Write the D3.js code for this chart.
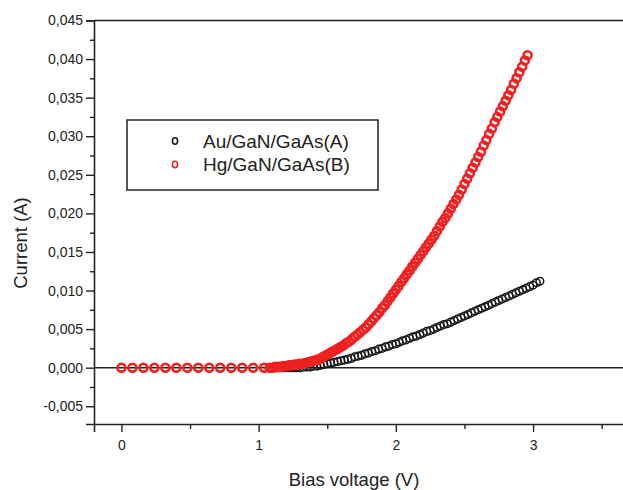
<!DOCTYPE html>
<html>
<head>
<meta charset="utf-8">
<script src="https://cdn.jsdelivr.net/npm/d3@7/dist/d3.min.js"></script>
<style>
  html, body { margin: 0; padding: 0; background: #fff; }
  svg { display: block; }
  text { font-family: "Liberation Sans", Arial, sans-serif; fill: #222; }
</style>
</head>
<body>
<svg id="chart" width="623" height="490"></svg>
<script>
// I-V characteristics of the two Schottky structures
const seriesNames = ["Au/GaN/GaAs(A)", "Hg/GaN/GaAs(B)"];
const seriesColors = ["#1a1a1a", "#f02020"];

// Sample A (Au contact): bias voltage (V) and current (A)
const voltsA = [0, 0.08, 0.16, 0.24, 0.32, 0.40, 0.48, 0.56, 0.64, 0.72, 0.80, 0.88, 0.96, 1.04,
  1.100, 1.125, 1.150, 1.175, 1.200, 1.225, 1.250, 1.275, 1.300, 1.325, 1.350, 1.375, 1.400, 1.425,
  1.450, 1.475, 1.500, 1.525, 1.550, 1.575, 1.600, 1.625, 1.650, 1.675, 1.700, 1.725, 1.750, 1.775,
  1.800, 1.825, 1.850, 1.875, 1.900, 1.925, 1.950, 1.975, 2.000, 2.025, 2.050, 2.075, 2.100, 2.125,
  2.150, 2.175, 2.200, 2.225, 2.250, 2.275, 2.300, 2.325, 2.350, 2.375, 2.400, 2.425, 2.450, 2.475,
  2.500, 2.525, 2.550, 2.575, 2.600, 2.625, 2.650, 2.675, 2.700, 2.725, 2.750, 2.775, 2.800, 2.825,
  2.850, 2.875, 2.900, 2.925, 2.950, 2.975, 3.000, 3.025, 3.050];
const currentA = [0, 0, 0, 0, 0, 0, 0, 0, 0, 0, 0, 0, 0, 0,
  0.0000, 0.0000, 0.0000, 0.0000, 0.0000, 0.0000, 0.0000, 0.0000, 0.0000, 0.0001, 0.0001, 0.0001, 0.0002, 0.0002,
  0.0003, 0.0004, 0.0005, 0.0006, 0.0007, 0.0008, 0.0009, 0.0010, 0.0011, 0.0012, 0.0014, 0.0015, 0.0016, 0.0018,
  0.0019, 0.0021, 0.0022, 0.0024, 0.0025, 0.0027, 0.0028, 0.0030, 0.0031, 0.0033, 0.0035, 0.0036, 0.0038, 0.0040,
  0.0041, 0.0043, 0.0045, 0.0047, 0.0048, 0.0050, 0.0052, 0.0054, 0.0056, 0.0057, 0.0059, 0.0061, 0.0063, 0.0065,
  0.0067, 0.0069, 0.0071, 0.0073, 0.0075, 0.0077, 0.0079, 0.0081, 0.0083, 0.0085, 0.0087, 0.0089, 0.0091, 0.0093,
  0.0095, 0.0097, 0.0099, 0.0101, 0.0103, 0.0105, 0.0107, 0.0110, 0.0112];

// Sample B (Hg contact): bias voltage (V) and current (A)
const voltsB = [0, 0.08, 0.16, 0.24, 0.32, 0.40, 0.48, 0.56, 0.64, 0.72, 0.80, 0.88, 0.96, 1.04,
  1.08, 1.10, 1.12, 1.14, 1.16, 1.18, 1.20, 1.22, 1.24, 1.26, 1.28, 1.30, 1.32, 1.34, 1.36, 1.38,
  1.40, 1.42, 1.44, 1.46, 1.48, 1.50, 1.52, 1.54, 1.56, 1.58, 1.60, 1.62, 1.64, 1.66, 1.68, 1.70,
  1.72, 1.74, 1.76, 1.78, 1.80, 1.82, 1.84, 1.86, 1.88, 1.90, 1.92, 1.94, 1.96, 1.98, 2.00, 2.02,
  2.04, 2.06, 2.08, 2.10, 2.12, 2.14, 2.16, 2.18, 2.20, 2.22, 2.24, 2.26, 2.28, 2.30, 2.32, 2.34,
  2.36, 2.38, 2.40, 2.42, 2.44, 2.46, 2.48, 2.50, 2.52, 2.54, 2.56, 2.58, 2.60, 2.62, 2.64, 2.66,
  2.68, 2.70, 2.72, 2.74, 2.76, 2.78, 2.80, 2.82, 2.84, 2.86, 2.88, 2.90, 2.92, 2.94, 2.96];
const currentB = [0, 0, 0, 0, 0, 0, 0, 0, 0, 0, 0, 0, 0, 0,
  0.0000, 0.0000, 0.0001, 0.0001, 0.0001, 0.0002, 0.0002, 0.0003, 0.0003, 0.0004, 0.0004, 0.0005, 0.0005, 0.0006, 0.0007, 0.0008,
  0.0009, 0.0010, 0.0011, 0.0013, 0.0015, 0.0017, 0.0019, 0.0021, 0.0023, 0.0025, 0.0027, 0.0029, 0.0032, 0.0034, 0.0037, 0.0040,
  0.0043, 0.0046, 0.0049, 0.0052, 0.0056, 0.0060, 0.0064, 0.0068, 0.0072, 0.0077, 0.0081, 0.0086, 0.0091, 0.0096, 0.0101, 0.0106,
  0.0111, 0.0116, 0.0121, 0.0126, 0.0131, 0.0136, 0.0141, 0.0146, 0.0151, 0.0156, 0.0161, 0.0166, 0.0171, 0.0177, 0.0183, 0.0189,
  0.0194, 0.0200, 0.0206, 0.0212, 0.0218, 0.0224, 0.0231, 0.0238, 0.0245, 0.0252, 0.0259, 0.0266, 0.0273, 0.0280, 0.0288, 0.0295,
  0.0303, 0.0310, 0.0318, 0.0325, 0.0332, 0.0339, 0.0346, 0.0353, 0.0360, 0.0368, 0.0375, 0.0383, 0.0390, 0.0398, 0.0405];

// Axis ticks
const xMajorTicks = [0, 1, 2, 3];
const xMinorTicks = [0.5, 1.5, 2.5, 3.5];
const yMajorTicks = [-0.005, 0, 0.005, 0.010, 0.015, 0.020, 0.025, 0.030, 0.035, 0.040, 0.045];
const yMinorTicks = [-0.0025, 0.0025, 0.0075, 0.0125, 0.0175, 0.0225, 0.0275, 0.0325, 0.0375, 0.0425];

const svg = d3.select("#chart");
const plotLeft = 94, plotRight = 623.6, plotTop = 20.5, plotBottom = 424;
const ink = "#222";

const x = d3.scaleLinear().domain([-0.2, 3.66]).range([plotLeft, plotRight]);
const y = d3.scaleLinear().domain([-0.0073, 0.045]).range([plotBottom, plotTop]);

const locale = d3.formatLocale({ decimal: ",", thousands: ".", grouping: [3], currency: ["", ""], minus: "-" });
const yFmt = locale.format(".3f");

// Y axis: major ticks with labels, then minor ticks
svg.append("g").attr("transform", `translate(${plotLeft},0)`)
  .call(d3.axisLeft(y).tickValues(yMajorTicks).tickFormat(yFmt).tickSize(8).tickPadding(3));
svg.append("g").attr("transform", `translate(${plotLeft},0)`)
  .call(d3.axisLeft(y).tickValues(yMinorTicks).tickFormat("").tickSize(4))
  .select(".domain").remove();

// X axis
svg.append("g").attr("transform", `translate(0,${plotBottom})`)
  .call(d3.axisBottom(x).tickValues(xMajorTicks).tickFormat(d3.format("d")).tickSize(8).tickPadding(8));
svg.append("g").attr("transform", `translate(0,${plotBottom})`)
  .call(d3.axisBottom(x).tickValues(xMinorTicks).tickFormat("").tickSize(5))
  .select(".domain").remove();

svg.selectAll(".domain").attr("stroke", ink).attr("stroke-width", 1.6);
svg.selectAll(".tick line").attr("stroke", ink).attr("stroke-width", 1.4);
svg.selectAll(".tick text").attr("font-size", 14).attr("fill", ink)
  .style("font-family", '"Liberation Sans", Arial, sans-serif');

// Top frame line
svg.append("line")
  .attr("x1", plotLeft).attr("x2", plotRight).attr("y1", y(0.045)).attr("y2", y(0.045))
  .attr("stroke", ink).attr("stroke-width", 1.6);

// Zero-current reference line
svg.append("line")
  .attr("x1", plotLeft).attr("x2", plotRight).attr("y1", y(0)).attr("y2", y(0))
  .attr("stroke", ink).attr("stroke-width", 1.5);

// Data markers: open circles
const sets = [
  { v: voltsA, i: currentA, color: seriesColors[0], r: 3.8, sw: 1.5 },
  { v: voltsB, i: currentB, color: seriesColors[1], r: 4.0, sw: 2.6 }
];
sets.forEach(s => {
  const pts = s.v.map((v, k) => ({ v, i: s.i[k] }));
  svg.append("g").selectAll("circle").data(pts).join("circle")
    .attr("cx", d => x(d.v)).attr("cy", d => y(d.i)).attr("r", s.r)
    .attr("fill", "none").attr("stroke", s.color).attr("stroke-width", s.sw);
});

// Legend
const legend = svg.append("g");
legend.append("rect").attr("x", 127).attr("y", 120).attr("width", 251).attr("height", 70)
  .attr("fill", "#fff").attr("stroke", ink).attr("stroke-width", 1.5);
seriesNames.forEach((name, k) => {
  const cy = 141 + k * 23.5;
  legend.append("ellipse").attr("cx", 175).attr("cy", cy).attr("rx", 2.6).attr("ry", 3.2)
    .attr("fill", "none").attr("stroke", seriesColors[k]).attr("stroke-width", 1.6);
  legend.append("text").attr("x", 203).attr("y", cy + 6.5).attr("font-size", 19).text(name);
});

// Axis titles
svg.append("text").attr("x", 354).attr("y", 486)
  .attr("text-anchor", "middle").attr("font-size", 18.5).text("Bias voltage (V)");
svg.append("text").attr("transform", "translate(27,243) rotate(-90)")
  .attr("text-anchor", "middle").attr("font-size", 18.5).text("Current (A)");
</script>
</body>
</html>
